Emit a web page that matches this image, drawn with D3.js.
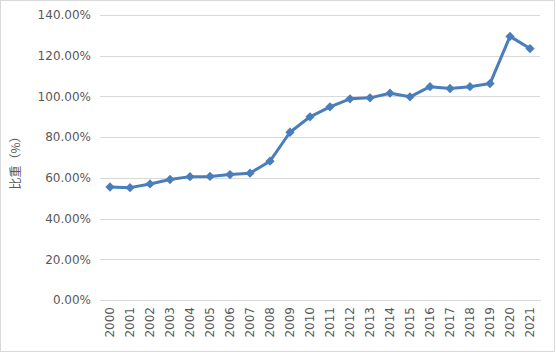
<!DOCTYPE html>
<html>
<head>
<meta charset="utf-8">
<script src="https://cdn.jsdelivr.net/npm/d3@7"></script>
<style>
  body { margin: 0; background: #fff; }
  text { font-family: "DejaVu Sans", sans-serif; }
</style>
</head>
<body>
<main></main>
<script>
// datos
const years = ['2000', '2001', '2002', '2003', '2004', '2005', '2006', '2007', '2008', '2009', '2010',
  '2011', '2012', '2013', '2014', '2015', '2016', '2017', '2018', '2019', '2020', '2021'];
const shares = [55.5, 55.2, 57.0, 59.2, 60.6, 60.7, 61.6, 62.3, 68.2, 82.4, 90.0,
  94.9, 98.8, 99.3, 101.6, 99.8, 104.8, 103.9, 104.8, 106.3, 129.5, 123.5];
const yTicks = [0, 20, 40, 60, 80, 100, 120, 140];
const yTitle = '比重（%）';

const w = 556;
const h = 354;

const svg = d3.select('main')
  .append('svg')
  .attr('width', w)
  .attr('height', h);

// marco
svg.append('rect')
  .attr('x', 0.5).attr('y', 0.5)
  .attr('width', 554).attr('height', 351)
  .attr('fill', '#fff')
  .attr('stroke', '#d9d9d9');

const x = d3.scaleBand()
  .domain(years)
  .range([100, 540]);

const y = d3.scaleLinear()
  .domain([0, 140])
  .range([300, 15]);

// ejes
const yAxis = svg.append('g')
  .attr('transform', 'translate(100,0)')
  .call(d3.axisLeft(y).tickValues(yTicks).tickSize(-440).tickFormat(d => d.toFixed(2) + '%'));
yAxis.select('.domain').remove();
yAxis.selectAll('line').attr('stroke', '#d9d9d9').attr('shape-rendering', 'crispEdges');
yAxis.selectAll('text')
  .attr('x', -9)
  .attr('fill', '#595959')
  .style('font-size', '12px');

const xAxis = svg.append('g')
  .attr('transform', 'translate(0,300)')
  .call(d3.axisBottom(x).tickSize(0));
xAxis.select('.domain').attr('stroke', '#d9d9d9').attr('shape-rendering', 'crispEdges');
xAxis.selectAll('text')
  .attr('transform', 'rotate(-90)')
  .attr('x', -7)
  .attr('y', 0)
  .attr('dy', '0.35em')
  .style('text-anchor', 'end')
  .attr('fill', '#595959')
  .style('font-size', '12px');

// título eje y
svg.append('text')
  .attr('transform', 'translate(20,160) rotate(-90)')
  .attr('text-anchor', 'middle')
  .attr('fill', '#595959')
  .style('font-size', '12px')
  .style('font-family', '"Noto Sans CJK SC", sans-serif')
  .text(yTitle);

// línea
const cx = d => x(d) + x.bandwidth() / 2;
const line = d3.line()
  .x((d, i) => cx(years[i]))
  .y(d => y(d));

svg.append('path')
  .datum(shares)
  .attr('d', line)
  .attr('fill', 'none')
  .attr('stroke', '#4a7ebb')
  .attr('stroke-width', 3)
  .attr('stroke-linejoin', 'round');

svg.selectAll('.pt')
  .data(shares)
  .enter()
  .append('path')
  .attr('class', 'pt')
  .attr('d', d3.symbol(d3.symbolDiamond2, 55))
  .attr('transform', (d, i) => `translate(${cx(years[i])},${y(d)})`)
  .attr('fill', '#4a7ebb');
</script>
</body>
</html>
